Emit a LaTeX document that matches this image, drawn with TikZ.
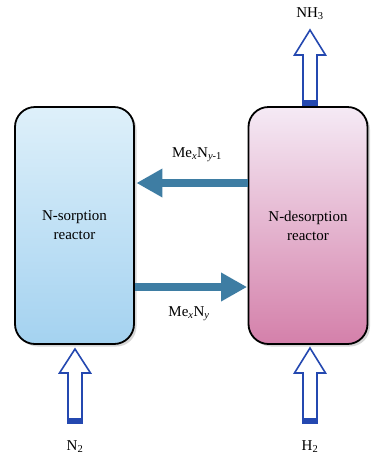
\documentclass[tikz,border=0pt]{standalone}
\usepackage{fontspec}
\setmainfont{Liberation Serif}
\usetikzlibrary{arrows.meta,shadows,calc}
\definecolor{flowblue}{RGB}{62,125,163}
\definecolor{outlineblue}{RGB}{36,72,176}
\definecolor{lbtop}{RGB}{222,240,250}
\definecolor{lbbot}{RGB}{164,210,240}
\definecolor{rbtop}{RGB}{245,234,245}
\definecolor{rbmid}{RGB}{234,188,214}
\definecolor{rbbot}{RGB}{212,128,170}
\newcommand{\blockarrow}[3]{%
  \draw[blockline] (#1-7,#2) -- (#1-7,#2-50) -- (#1-15.5,#2-50) -- (#1,#3)
    -- (#1+15.5,#2-50) -- (#1+7,#2-50) -- (#1+7,#2) -- cycle;
  \fill[outlineblue] (#1-7,#2) rectangle (#1+7,#2-5);
  \draw[blockline,fill=none] (#1-7,#2) -- (#1+7,#2);
}
\tikzset{
  reactor/.style={draw=black, line width=1.8pt, rounded corners=20pt,
    minimum width=119pt, minimum height=237pt, align=center,
    font=\fontsize{15}{19}\selectfont,
    drop shadow={shadow xshift=2.5pt, shadow yshift=-2.5pt, fill=gray!70, opacity=0.45}},
  lbox/.style={reactor, top color=lbtop, bottom color=lbbot},
  rbox/.style={reactor, top color=rbtop, middle color=rbmid, bottom color=rbbot},
  flow/.style={flowblue, line width=8pt, -{Triangle[length=26pt,width=27pt]}},
  blockline/.style={draw=outlineblue, line width=1.6pt, fill=white, line join=miter},
  lbl/.style={font=\fontsize{15}{17}\selectfont, inner sep=0pt}
}
\begin{document}
\begin{tikzpicture}[x=1pt,y=-1pt]
\useasboundingbox (0,0) rectangle (373,459);
\node[lbox] (sorp) at (74.5,225.5) {N-sorption\\reactor};
\node[rbox] (desorp) at (308,225.5) {N-desorption\\reactor};
% flows between reactors
\coordinate (u1) at (desorp.west |- 0,183);
\coordinate (u2) at ($(sorp.east |- 0,183)+(1.5,0)$);
\draw[flow] (u1) -- (u2);
\coordinate (d1) at (sorp.east |- 0,287);
\coordinate (d2) at ($(desorp.west |- 0,287)+(-0.5,0)$);
\draw[flow] (d1) -- (d2);
\node[lbl] (top) at (197,155) {Me\textsubscript{\textit{x}}N\textsubscript{\textit{y}-1}};
\node[lbl] (bot) at (189,314) {Me\textsubscript{\textit{x}}N\textsubscript{\textit{y}}};
% block arrows
\blockarrow{75}{423}{349}
\blockarrow{310}{423}{348}
\blockarrow{310}{105}{30}
\node[lbl] (n2) at (75,447) {N\textsubscript{2}};
\node[lbl] (h2) at (310,447) {H\textsubscript{2}};
\node[lbl] (nh3) at (310,14) {NH\textsubscript{3}};
\end{tikzpicture}
\end{document}
